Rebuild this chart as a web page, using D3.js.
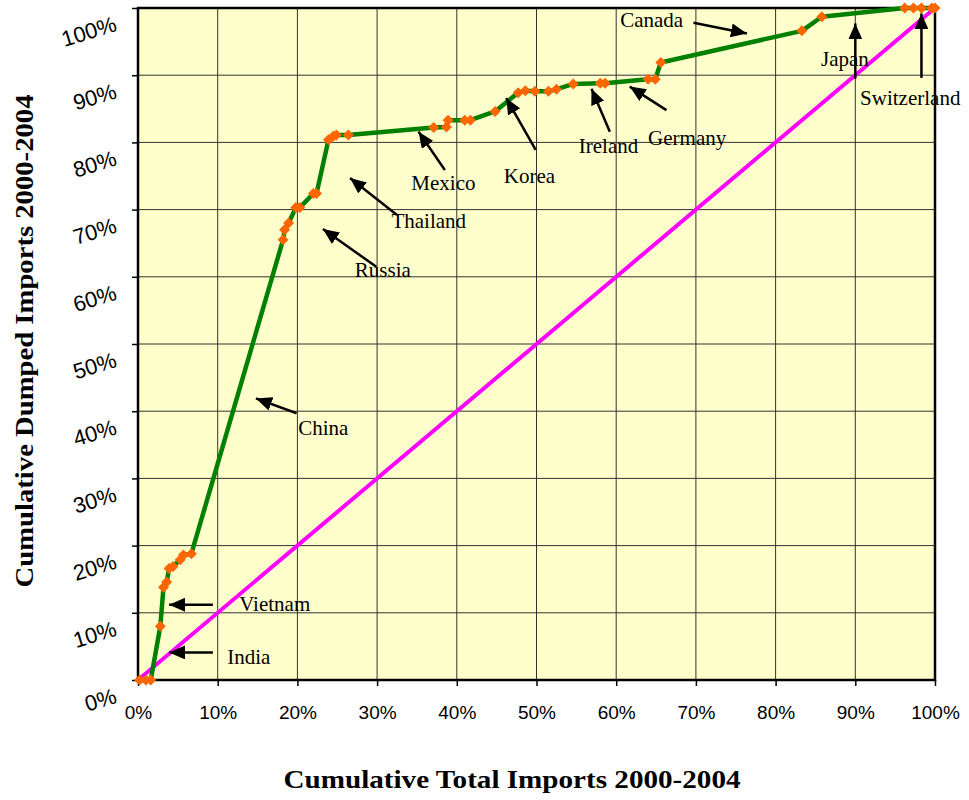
<!doctype html>
<meta charset="utf-8">
<script src="https://d3js.org/d3.v7.min.js"></script>
<style>
  body { margin: 0; background: #fff; }
  svg { display: block; }
  .tick text { font-family: "Liberation Sans", Arial, sans-serif; font-size: 19px; fill: #000; }
  .ylab .tick text { font-size: 22px; }
  .note { font-family: "Liberation Serif", "Times New Roman", serif; font-size: 21px; fill: #000; }
  .title { font-family: "Liberation Serif", "Times New Roman", serif; font-weight: bold; fill: #000; }
</style>
<body>
<script>

var width = 969;
var height = 800;

// cumulative share of total imports (%) and of dumped imports (%)
var totalImports = [0.2, 1.0, 1.6, 2.8, 3.2, 3.6, 3.9, 4.4, 5.3, 5.7, 6.7,
    18.2, 18.4, 18.9, 19.8, 20.3, 22.0, 22.4, 23.9, 24.5, 24.9, 26.4,
    37.1, 38.7, 38.9, 41.0, 41.7, 44.8, 47.7, 48.6, 49.8, 51.5, 52.5, 54.6,
    58.0, 58.6, 64.0, 64.9, 65.6, 83.3, 85.8, 96.2, 97.3, 98.3, 99.6, 100];
var dumpedImports = [0, 0, 0, 8.0, 13.8, 14.6, 16.6, 16.9, 17.9, 18.6, 18.8,
    65.5, 67.0, 68.0, 70.3, 70.3, 72.4, 72.4, 80.4, 80.9, 81.1, 81.1,
    82.2, 82.3, 83.3, 83.3, 83.3, 84.6, 87.4, 87.7, 87.6, 87.6, 87.9, 88.7,
    88.8, 88.8, 89.4, 89.4, 91.9, 96.6, 98.7, 100, 100, 100, 100, 100];

// equality line
var equality = [[0, 0], [100, 100]];

var tickValues = [0, 10, 20, 30, 40, 50, 60, 70, 80, 90, 100];

// country notes, in chart units: label spot, arrow tail, arrow tip
var countries = ["Canada", "Japan", "Switzerland", "Germany", "Ireland", "Korea",
    "Mexico", "Thailand", "Russia", "China", "Vietnam", "India"];
var labelAt = [[60.5, 97.2], [85.7, 91.3], [90.6, 85.6], [64.0, 79.6], [55.3, 78.4], [45.9, 73.9],
    [34.3, 72.9], [31.8, 67.2], [27.2, 60.0], [20.1, 36.5], [12.7, 10.2], [11.2, 2.4]];
var arrowFrom = [[69.7, 97.8], [90.0, 89.5], [98.3, 89.6], [66.3, 84.8], [59.2, 81.6], [49.9, 78.9],
    [38.5, 75.9], [32.5, 69.2], [29.9, 61.5], [19.9, 39.7], [9.4, 11.2], [9.4, 4.1]];
var arrowTo = [[76.4, 96.2], [90.0, 97.7], [98.3, 99.2], [61.7, 88.3], [56.9, 88.0], [46.2, 86.6],
    [35.2, 81.6], [26.6, 74.7], [23.2, 67.1], [14.8, 41.9], [3.9, 11.2], [3.9, 4.1]];

var margin = {top: 8, right: 34, bottom: 120, left: 138};
var w = width - margin.left - margin.right;
var h = height - margin.top - margin.bottom;

var svg = d3.select("body")
        .append("svg")
        .attr("width", width)
        .attr("height", height);

svg.append("defs").append("marker")
        .attr("id", "head")
        .attr("markerUnits", "userSpaceOnUse")
        .attr("viewBox", "0 -7 16 14")
        .attr("refX", 16)
        .attr("refY", 0)
        .attr("markerWidth", 16)
        .attr("markerHeight", 14)
        .attr("orient", "auto")
        .append("path")
        .attr("d", "M0,-7L16,0L0,7Z")
        .attr("fill", "#000");

var g = svg.append("g")
        .attr("transform", "translate(" + margin.left + "," + margin.top + ")");

var x = d3.scaleLinear().domain([0, 100]).range([0, w]);
var y = d3.scaleLinear().domain([0, 100]).range([h, 0]);

g.append("rect")
        .attr("width", w)
        .attr("height", h)
        .attr("fill", "#FFFFCC");

// grid
g.selectAll(".vgrid")
        .data(tickValues)
        .enter()
        .append("line")
        .attr("x1", function(d){ return x(d); })
        .attr("x2", function(d){ return x(d); })
        .attr("y1", 0)
        .attr("y2", h)
        .attr("stroke", "#333")
        .attr("stroke-width", 1);

g.selectAll(".hgrid")
        .data(tickValues)
        .enter()
        .append("line")
        .attr("y1", function(d){ return y(d); })
        .attr("y2", function(d){ return y(d); })
        .attr("x1", 0)
        .attr("x2", w)
        .attr("stroke", "#333")
        .attr("stroke-width", 1);

// axes
var xAxis = g.append("g")
        .attr("transform", "translate(0," + h + ")")
        .call(d3.axisBottom(x).tickValues(tickValues).tickSize(6).tickPadding(20)
            .tickFormat(function(d){ return d + "%"; }));
xAxis.select(".domain").remove();
xAxis.selectAll(".tick line").attr("stroke", "#000").attr("stroke-width", 1.5);

var yAxis = g.append("g")
        .attr("class", "ylab")
        .call(d3.axisLeft(y).tickValues(tickValues).tickSize(6).tickFormat(function(d){ return d + "%"; }));
yAxis.select(".domain").remove();
yAxis.selectAll(".tick line").attr("stroke", "#000").attr("stroke-width", 1.5);
yAxis.selectAll(".tick text")
        .attr("x", 0)
        .attr("dy", 0)
        .attr("text-anchor", "end")
        .attr("transform", "translate(-20,22) rotate(-17)");

g.append("rect")
        .attr("width", w)
        .attr("height", h)
        .attr("fill", "none")
        .attr("stroke", "#000")
        .attr("stroke-width", 2.5);

// equality line
g.append("path")
        .datum(equality)
        .attr("d", d3.line()
            .x(function(d){ return x(d[0]); })
            .y(function(d){ return y(d[1]); }))
        .attr("fill", "none")
        .attr("stroke", "#FF00FF")
        .attr("stroke-width", 4);

var points = totalImports.map(function(v, i){ return [v, dumpedImports[i]]; });

g.append("path")
        .datum(points)
        .attr("d", d3.line()
            .x(function(d){ return x(d[0]); })
            .y(function(d){ return y(d[1]); }))
        .attr("fill", "none")
        .attr("stroke", "#008000")
        .attr("stroke-width", 4.5)
        .attr("stroke-linejoin", "round");

g.selectAll(".pt")
        .data(points)
        .enter()
        .append("path")
        .attr("d", "M0,-5.5L5.5,0L0,5.5L-5.5,0Z")
        .attr("transform", function(d){ return "translate(" + x(d[0]) + "," + y(d[1]) + ")"; })
        .attr("fill", "#FF6600");

// notes
g.selectAll(".arrow")
        .data(countries)
        .enter()
        .append("line")
        .attr("x1", function(d, i){ return x(arrowFrom[i][0]); })
        .attr("y1", function(d, i){ return y(arrowFrom[i][1]); })
        .attr("x2", function(d, i){ return x(arrowTo[i][0]); })
        .attr("y2", function(d, i){ return y(arrowTo[i][1]); })
        .attr("stroke", "#000")
        .attr("stroke-width", 2.5)
        .attr("marker-end", "url(#head)");

g.selectAll(".note")
        .data(countries)
        .enter()
        .append("text")
        .attr("class", "note")
        .attr("x", function(d, i){ return x(labelAt[i][0]); })
        .attr("y", function(d, i){ return y(labelAt[i][1]); })
        .text(function(d){ return d; });

// titles
svg.append("text")
        .attr("class", "title")
        .attr("x", 512)
        .attr("y", 788)
        .attr("text-anchor", "middle")
        .style("font-size", "26px")
        .attr("textLength", 457)
        .attr("lengthAdjust", "spacingAndGlyphs")
        .text("Cumulative Total Imports 2000-2004");

svg.append("text")
        .attr("class", "title")
        .attr("transform", "translate(33,341) rotate(-90)")
        .attr("text-anchor", "middle")
        .style("font-size", "26px")
        .attr("textLength", 493)
        .attr("lengthAdjust", "spacingAndGlyphs")
        .text("Cumulative Dumped Imports 2000-2004");

</script>
